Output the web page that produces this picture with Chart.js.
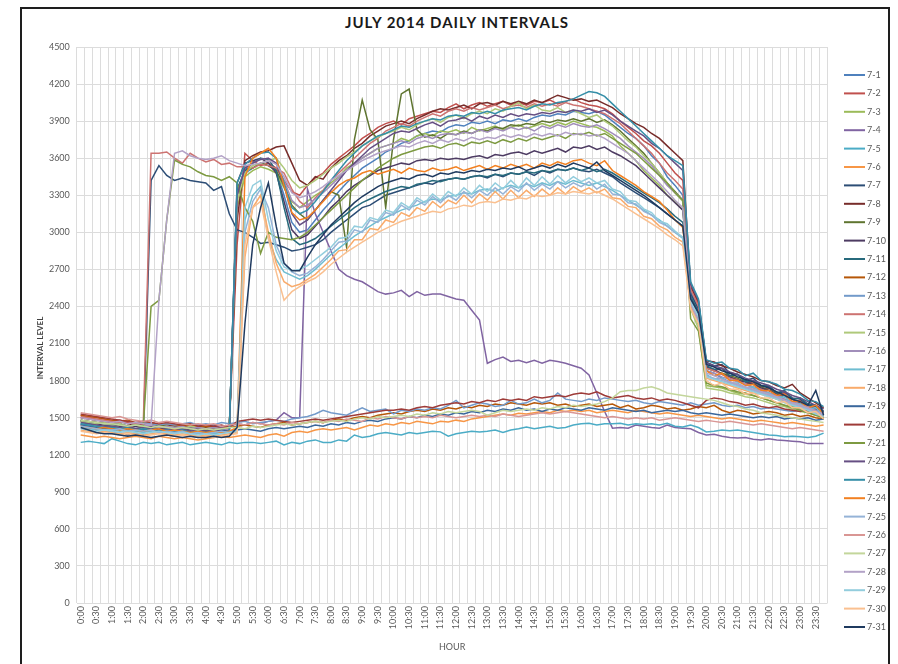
<!DOCTYPE html>
<html>
<head>
<meta charset="utf-8">
<title>July 2014 Daily Intervals</title>
<script src="https://cdn.jsdelivr.net/npm/chart.js@4.4.1/dist/chart.umd.min.js"></script>
<style>
  html, body { margin: 0; padding: 0; background: #fff; }
  body { width: 898px; height: 664px; position: relative; overflow: hidden; }
  #frame { position: absolute; left: 20px; top: 7px; width: 870px; height: 700px;
           border: 2px solid #1e1e1e; border-bottom: none; box-sizing: border-box; }
  #title { position: absolute; left: 20px; width: 874px; top: 13px; line-height: 18px;
           text-align: center; font: bold 15px Lato, sans-serif; letter-spacing: 1px; color: #1a1a1a; }
  #wrap { position: absolute; left: 21px; top: 9px; width: 868px; height: 655px; }
</style>
</head>
<body>
<div id="frame"></div>
<div id="title">JULY 2014 DAILY INTERVALS</div>
<div id="wrap"><canvas id="intervalChart"></canvas></div>
<script>
'use strict';
// ===================== data =====================
const hours = [
    '0:00','0:15','0:30','0:45','1:00','1:15','1:30','1:45','2:00','2:15','2:30','2:45',
    '3:00','3:15','3:30','3:45','4:00','4:15','4:30','4:45','5:00','5:15','5:30','5:45',
    '6:00','6:15','6:30','6:45','7:00','7:15','7:30','7:45','8:00','8:15','8:30','8:45',
    '9:00','9:15','9:30','9:45','10:00','10:15','10:30','10:45','11:00','11:15','11:30','11:45',
    '12:00','12:15','12:30','12:45','13:00','13:15','13:30','13:45','14:00','14:15','14:30','14:45',
    '15:00','15:15','15:30','15:45','16:00','16:15','16:30','16:45','17:00','17:15','17:30','17:45',
    '18:00','18:15','18:30','18:45','19:00','19:15','19:30','19:45','20:00','20:15','20:30','20:45',
    '21:00','21:15','21:30','21:45','22:00','22:15','22:30','22:45','23:00','23:15','23:30','23:45'
];

const days = ['7-1','7-2','7-3','7-4','7-5','7-6','7-7','7-8','7-9','7-10','7-11','7-12','7-13','7-14','7-15','7-16',
              '7-17','7-18','7-19','7-20','7-21','7-22','7-23','7-24','7-25','7-26','7-27','7-28','7-29','7-30','7-31'];

const jul01 = [
    1480,1460,1450,1440, 1430,1440,1420,1430, 1420,1410,1430,1420, 1410,1420,1400,1410,
    1400,1420,1410,1400, 3350,3480,3520,3560, 3540,3500,3300,3080, 3000,3020,3100,3180,
    3250,3330,3400,3460, 3520,3560,3600,3650, 3680,3720,3740,3780, 3800,3820,3810,3850,
    3870,3860,3890,3880, 3900,3880,3910,3900, 3920,3900,3930,3950, 3940,3960,3950,3980,
    3970,3960,3980,3950, 3900,3850,3800,3760, 3700,3620,3560,3450, 3380,3300,2520,2380,
    1880,1860,1820,1790, 1760,1740,1720,1700, 1680,1650,1630,1600, 1580,1560,1530,1510];
const jul02 = [
    1520,1500,1510,1490, 1470,1480,1460,1450, 1440,1450,1430,1440, 1430,1440,1420,1430,
    1420,1430,1410,1420, 2900,3640,3580,3540, 3560,3520,3420,3330, 3300,3380,3440,3480,
    3550,3600,3650,3700, 3760,3800,3850,3880, 3900,3870,3920,3940, 3960,3980,3970,4010,
    4040,4000,4030,4050, 4020,4040,4060,4030, 4050,4030,4060,4050, 4070,4040,4060,4080,
    4050,4030,4020,4000, 3960,3900,3850,3800, 3740,3700,3640,3560, 3480,3420,2560,2420,
    1920,1880,1900,1830, 1810,1770,1790,1730, 1740,1680,1700,1630, 1640,1580,1590,1540];
const jul03 = [
    1460,1450,1440,1450, 1430,1440,1420,1410, 1420,1410,1400,1420, 1410,1400,1410,1400,
    1400,1390,1410,1400, 3200,3450,3500,3530, 3510,3480,3360,3250, 3200,3250,3300,3340,
    3400,3450,3520,3560, 3600,3640,3680,3700, 3720,3760,3740,3780, 3800,3780,3820,3810,
    3830,3800,3850,3820, 3840,3860,3830,3850, 3870,3840,3860,3880, 3860,3890,3870,3900,
    3880,3860,3850,3820, 3780,3700,3640,3580, 3500,3440,3380,3300, 3250,3180,2400,2250,
    1760,1750,1740,1720, 1700,1690,1680,1660, 1640,1620,1600,1590, 1570,1550,1530,1510];
const jul04 = [
    1470,1460,1450,1460, 1440,1450,1430,1440, 1430,1440,1450,1430, 1440,1430,1420,1440,
    1430,1440,1420,1430, 1450,1440,1460,1450, 1470,1480,1540,1500, 1500,3350,3150,3000,
    2850,2700,2650,2620, 2600,2560,2520,2500, 2510,2530,2480,2520, 2490,2500,2500,2480,
    2460,2450,2370,2290, 1940,1970,1990,1955, 1965,1945,1965,1940, 1965,1955,1940,1920,
    1900,1845,1700,1550, 1415,1420,1415,1440, 1430,1420,1415,1440, 1420,1415,1410,1380,
    1360,1365,1350,1340, 1335,1340,1325,1320, 1330,1320,1315,1310, 1305,1290,1290,1290];
const jul05 = [
    1300,1310,1300,1290, 1330,1310,1290,1280, 1300,1290,1300,1280, 1290,1300,1280,1290,
    1300,1290,1280,1300, 1290,1300,1300,1290, 1300,1310,1280,1300, 1290,1310,1320,1300,
    1300,1320,1310,1360, 1340,1350,1370,1380, 1370,1360,1380,1370, 1380,1390,1385,1350,
    1370,1380,1390,1385, 1390,1400,1380,1400, 1410,1425,1410,1420, 1430,1415,1420,1440,
    1450,1455,1440,1450, 1450,1455,1440,1450, 1445,1450,1440,1455, 1430,1425,1440,1420,
    1385,1390,1400,1395, 1400,1390,1380,1370, 1360,1355,1345,1350, 1345,1340,1350,1375];
const jul06 = [
    1360,1350,1340,1350, 1340,1330,1340,1350, 1340,1330,1350,1340, 1330,1340,1330,1320,
    1330,1340,1350,1340, 1350,1360,1350,1340, 1360,1370,1350,1380, 1390,1380,1400,1410,
    1400,1410,1420,1400, 1420,1440,1430,1450, 1440,1460,1450,1470, 1460,1450,1470,1465,
    1480,1470,1490,1500, 1510,1520,1530,1520, 1535,1530,1540,1550, 1540,1560,1550,1560,
    1550,1560,1540,1550, 1560,1550,1540,1560, 1550,1540,1530,1540, 1530,1520,1510,1520,
    1510,1500,1490,1500, 1490,1480,1470,1480, 1470,1460,1450,1460, 1450,1440,1430,1440];
const jul07 = [
    1450,1420,1400,1390, 1380,1370,1360,1370, 1360,3420,3540,3460, 3420,3440,3420,3410,
    3400,3340,3370,3150, 3020,3000,2960,2910, 2920,2900,2880,2850, 2860,2880,2900,2940,
    3000,3050,3100,3150, 3200,3220,3260,3300, 3320,3340,3360,3380, 3400,3390,3420,3430,
    3440,3430,3450,3460, 3440,3470,3450,3480, 3470,3490,3460,3500, 3480,3510,3500,3520,
    3500,3490,3510,3480, 3450,3400,3360,3320, 3280,3240,3200,3150, 3100,3050,2500,2380,
    1950,1920,1930,1860, 1850,1800,1820,1760, 1750,1700,1710,1660, 1650,1600,1590,1550];
const jul08 = [
    1500,1490,1480,1470, 1460,1470,1450,1440, 1450,1440,1430,1440, 1430,1420,1440,1430,
    1420,1430,1410,1420, 3100,3580,3620,3650, 3660,3690,3700,3560, 3420,3380,3450,3430,
    3520,3580,3620,3680, 3720,3780,3820,3860, 3880,3900,3880,3920, 3950,3980,4000,3990,
    4010,4030,4000,4040, 4050,4030,4060,4040, 4060,4040,4070,4050, 4080,4110,4090,4070,
    4080,4060,4070,4040, 4010,3960,3920,3880, 3850,3800,3760,3700, 3640,3580,2560,2440,
    1960,1950,1920,1900, 1870,1850,1830,1800, 1790,1760,1740,1770, 1700,1660,1620,1580];
const jul09 = [
    1480,1470,1460,1450, 1440,1450,1430,1440, 1430,1420,1440,1430, 1420,1430,1410,1420,
    1410,1420,1400,1410, 3300,3500,3520,3560, 3540,3500,3380,3220, 3150,3100,3180,3260,
    3330,3300,2880,3750, 4070,3830,3750,3200, 3750,4120,4160,3830, 3770,3790,3760,3800,
    3790,3820,3800,3830, 3820,3850,3840,3870, 3860,3880,3870,3900, 3890,3910,3900,3920,
    3900,3920,3890,3910, 3870,3820,3760,3700, 3640,3560,3480,3400, 3330,3260,2450,2320,
    1900,1880,1860,1840, 1820,1790,1770,1750, 1720,1700,1670,1650, 1620,1590,1560,1540];
const jul10 = [
    1470,1460,1450,1440, 1440,1430,1420,1430, 1420,1430,1410,1420, 1410,1420,1400,1410,
    1400,1410,1400,1390, 3400,3560,3580,3600, 3560,3480,3250,3020, 2950,2980,3050,3120,
    3200,3260,3330,3380, 3420,3460,3500,3520, 3540,3560,3550,3580, 3590,3580,3600,3590,
    3600,3590,3610,3620, 3600,3630,3620,3640, 3650,3630,3660,3640, 3660,3680,3650,3690,
    3680,3700,3670,3690, 3650,3620,3580,3540, 3480,3420,3360,3300, 3240,3180,2470,2340,
    1910,1890,1850,1830, 1800,1790,1770,1740, 1720,1690,1670,1650, 1620,1590,1570,1550];
const jul11 = [
    1440,1430,1420,1410, 1420,1400,1410,1400, 1390,1400,1410,1390, 1400,1390,1380,1400,
    1390,1380,1400,1390, 3350,3500,3560,3600, 3590,3500,3200,2950, 2900,2920,2950,3000,
    3050,3100,3150,3200, 3240,3270,3300,3330, 3350,3370,3360,3390, 3400,3420,3410,3430,
    3440,3430,3450,3460, 3450,3470,3460,3480, 3470,3490,3480,3500, 3490,3510,3500,3520,
    3500,3520,3490,3510, 3480,3440,3400,3360, 3320,3280,3240,3190, 3130,3080,2480,2360,
    1920,1890,1900,1840, 1850,1790,1800,1760, 1760,1700,1720,1650, 1660,1610,1600,1550];
const jul12 = [
    1520,1510,1500,1490, 1480,1470,1480,1460, 1450,1460,1440,1450, 1440,1430,1440,1420,
    1430,1420,1410,1420, 1430,1440,1430,1420, 1440,1450,1460,1440, 1450,1460,1470,1460,
    1480,1490,1480,1500, 1510,1500,1520,1530, 1540,1530,1550,1560, 1550,1570,1560,1580,
    1570,1590,1580,1600, 1590,1610,1600,1620, 1610,1600,1620,1610, 1620,1600,1610,1590,
    1600,1610,1590,1600, 1610,1580,1600,1570, 1580,1600,1590,1570, 1580,1560,1570,1590,
    1580,1600,1560,1540, 1560,1550,1530,1540, 1550,1540,1520,1530, 1510,1520,1500,1490];
const jul13 = [
    1450,1440,1460,1450, 1440,1450,1430,1440, 1460,1450,1440,1450, 1440,1450,1460,1440,
    1450,1440,1460,1450, 1460,1470,1450,1460, 1470,1480,1470,1490, 1500,1510,1530,1560,
    1540,1530,1520,1550, 1580,1550,1560,1570, 1530,1560,1550,1570, 1560,1580,1570,1600,
    1640,1580,1600,1620, 1610,1590,1600,1640, 1610,1620,1650,1620, 1640,1700,1650,1640,
    1630,1650,1640,1660, 1650,1640,1630,1640, 1620,1610,1630,1620, 1610,1600,1620,1600,
    1610,1620,1600,1590, 1600,1580,1590,1570, 1580,1570,1560,1550, 1560,1540,1550,1530];
const jul14 = [
    1510,1500,1490,1480, 1470,1460,1470,1450, 1450,3640,3640,3650, 3600,3560,3640,3600,
    3570,3590,3550,3560, 3530,3530,3520,3550, 3540,3520,3480,3350, 3250,3200,3280,3340,
    3420,3480,3540,3600, 3660,3720,3760,3820, 3850,3880,3860,3900, 3930,3960,3940,3980,
    4000,3980,4010,3990, 4010,4030,4000,4020, 4030,4010,4040,4020, 4040,4020,4050,4030,
    4020,4000,3980,3960, 3920,3880,3820,3760, 3700,3640,3560,3480, 3420,3350,2540,2400,
    1900,1880,1850,1820, 1800,1770,1750,1730, 1700,1680,1650,1630, 1600,1580,1550,1530];
const jul15 = [
    1470,1460,1450,1460, 1440,1450,1430,1440, 1430,1440,1420,1430, 1420,1410,1430,1420,
    1410,1420,1400,1410, 3250,3480,3540,3560, 3580,3600,3520,3420, 3360,3380,3420,3470,
    3520,3560,3610,3650, 3700,3740,3770,3800, 3820,3850,3830,3870, 3900,3920,3890,3930,
    3950,3920,3960,3980, 3960,4000,3980,4020, 4050,4000,4030,3990, 3980,4010,3970,3990,
    3960,3930,3950,3900, 3860,3800,3740,3690, 3620,3560,3480,3400, 3320,3250,2380,2220,
    1740,1730,1720,1700, 1690,1670,1660,1640, 1620,1600,1590,1570, 1550,1540,1520,1500];
const jul16 = [
    1480,1470,1460,1450, 1450,1440,1430,1440, 1430,1440,1420,1430, 1420,1430,1410,1420,
    1410,1420,1410,1400, 3300,3520,3560,3590, 3600,3560,3420,3260, 3200,3220,3270,3320,
    3380,3440,3500,3550, 3600,3640,3680,3700, 3720,3740,3720,3760, 3780,3760,3790,3800,
    3790,3810,3800,3830, 3810,3840,3820,3850, 3830,3850,3820,3860, 3840,3870,3850,3880,
    3860,3850,3870,3840, 3800,3760,3700,3650, 3600,3540,3460,3380, 3320,3260,2450,2300,
    1880,1860,1830,1810, 1790,1770,1740,1720, 1700,1680,1650,1630, 1610,1590,1560,1540];
const jul17 = [
    1420,1410,1400,1410, 1400,1390,1400,1390, 1380,1390,1400,1390, 1380,1390,1380,1370,
    1380,1370,1380,1390, 1400,3100,3300,3370, 2950,2780,2680,2650, 2620,2650,2700,2760,
    2820,2870,2920,2970, 3010,3050,3090,3120, 3150,3180,3200,3220, 3250,3270,3260,3290,
    3300,3320,3310,3340, 3350,3330,3360,3380, 3360,3390,3370,3400, 3380,3410,3390,3420,
    3400,3380,3400,3370, 3340,3300,3260,3220, 3180,3140,3100,3050, 3000,2950,2420,2300,
    1850,1810,1820,1780, 1780,1740,1750,1700, 1700,1660,1670,1610, 1610,1570,1580,1520];
const jul18 = [
    1400,1390,1380,1390, 1380,1370,1380,1370, 1360,1370,1380,1370, 1360,1370,1360,1350,
    1360,1350,1360,1370, 1380,2800,3200,3300, 3000,2750,2600,2560, 2580,2620,2660,2720,
    2780,2850,2860,2940, 2940,3030,3020,3100, 3080,3160,3130,3200, 3170,3250,3200,3260,
    3230,3300,3240,3310, 3260,3330,3270,3340, 3280,3340,3290,3350, 3300,3360,3310,3370,
    3330,3360,3320,3350, 3280,3270,3210,3200, 3130,3110,3050,3020, 2960,2920,2400,2280,
    1820,1800,1780,1760, 1740,1720,1700,1690, 1670,1650,1630,1610, 1590,1570,1540,1520];
const jul19 = [
    1440,1430,1420,1410, 1420,1410,1400,1410, 1400,1410,1390,1400, 1390,1400,1380,1390,
    1380,1390,1400,1390, 1400,1410,1400,1390, 1410,1420,1410,1420, 1430,1420,1440,1430,
    1450,1440,1460,1450, 1470,1480,1470,1490, 1500,1490,1510,1500, 1520,1510,1530,1520,
    1540,1530,1550,1540, 1560,1550,1570,1560, 1580,1560,1570,1550, 1570,1560,1580,1570,
    1560,1580,1570,1560, 1580,1570,1560,1550, 1560,1540,1550,1560, 1550,1560,1540,1530,
    1540,1530,1520,1530, 1520,1510,1500,1510, 1500,1510,1490,1500, 1490,1500,1480,1490];
const jul20 = [
    1530,1520,1510,1500, 1490,1480,1470,1460, 1470,1460,1450,1460, 1450,1440,1450,1430,
    1440,1430,1440,1420, 1470,1480,1490,1480, 1490,1480,1470,1460, 1470,1480,1490,1480,
    1490,1500,1510,1520, 1530,1540,1550,1560, 1560,1570,1560,1580, 1590,1580,1600,1610,
    1620,1610,1630,1620, 1640,1630,1650,1640, 1650,1640,1670,1660, 1670,1680,1670,1690,
    1700,1690,1710,1680, 1660,1670,1680,1660, 1650,1660,1640,1650, 1640,1620,1600,1580,
    1640,1660,1650,1630, 1620,1600,1610,1590, 1580,1590,1570,1560, 1550,1560,1540,1520];
const jul21 = [
    1480,1470,1460,1450, 1450,1440,1430,1440, 1430,2400,2450,3100, 3585,3550,3530,3490,
    3460,3450,3420,3450, 3400,3200,3090,2830, 3000,2960,2950,2940, 2960,3000,3060,3120,
    3180,3240,3300,3360, 3420,3470,3520,3560, 3600,3630,3650,3670, 3690,3700,3680,3710,
    3720,3700,3730,3720, 3740,3720,3750,3730, 3760,3740,3770,3750, 3770,3790,3760,3800,
    3790,3810,3780,3800, 3760,3720,3680,3640, 3580,3520,3460,3400, 3320,3260,2300,2200,
    1780,1760,1750,1730, 1710,1700,1680,1660, 1640,1620,1600,1580, 1560,1540,1520,1500];
const jul22 = [
    1460,1450,1440,1430, 1430,1420,1430,1410, 1420,1410,1400,1410, 1400,1410,1390,1400,
    1390,1400,1390,1380, 3300,3520,3560,3590, 3600,3560,3380,3150, 3060,3100,3180,3260,
    3340,3420,3500,3560, 3620,3680,3720,3760, 3800,3820,3810,3840, 3870,3890,3860,3900,
    3910,3930,3900,3940, 3920,3950,3930,3960, 3940,3960,3950,3970, 3960,3980,3970,3990,
    3980,4000,3970,3990, 3950,3900,3860,3820, 3780,3720,3680,3620, 3560,3500,2580,2450,
    1940,1920,1900,1870, 1850,1820,1800,1780, 1760,1730,1710,1680, 1660,1630,1600,1570];
const jul23 = [
    1450,1440,1430,1420, 1420,1410,1420,1400, 1410,1400,1390,1400, 1390,1400,1380,1390,
    1380,1390,1380,1390, 3400,3550,3600,3640, 3650,3600,3400,3200, 3150,3180,3250,3330,
    3420,3500,3580,3640, 3700,3740,3780,3800, 3830,3860,3850,3880, 3900,3920,3910,3940,
    3950,3940,3970,3960, 3980,3960,3990,4000, 4010,3990,4020,4040, 4030,4050,4060,4080,
    4110,4140,4130,4100, 4040,3980,3920,3860, 3800,3740,3680,3620, 3580,3540,2600,2460,
    1970,1940,1950,1900, 1890,1840,1860,1800, 1790,1770,1730,1720, 1690,1640,1630,1590];
const jul24 = [
    1430,1420,1410,1420, 1410,1400,1410,1400, 1390,1400,1410,1390, 1400,1390,1380,1390,
    1380,1390,1380,1390, 1420,3450,3600,3640, 3680,3600,3380,3160, 3100,3120,3180,3250,
    3320,3380,3420,3440, 3480,3500,3470,3490, 3510,3480,3520,3500, 3490,3520,3500,3510,
    3530,3500,3520,3540, 3510,3540,3520,3550, 3530,3550,3520,3560, 3540,3570,3550,3580,
    3590,3560,3540,3580, 3500,3460,3420,3380, 3330,3290,3250,3180, 3100,3040,2420,2300,
    1880,1840,1860,1800, 1800,1760,1770,1720, 1720,1680,1690,1630, 1630,1580,1600,1530];
const jul25 = [
    1430,1420,1410,1400, 1400,1410,1390,1400, 1390,1400,1380,1390, 1380,1390,1370,1380,
    1370,1380,1390,1380, 1400,3000,3250,3350, 3200,2900,2750,2680, 2650,2670,2720,2780,
    2850,2920,2930,3020, 3000,3100,3080,3160, 3140,3220,3180,3260, 3220,3290,3240,3300,
    3260,3330,3280,3340, 3300,3360,3310,3370, 3330,3400,3340,3390, 3350,3410,3360,3400,
    3370,3410,3350,3390, 3310,3300,3240,3230, 3170,3140,3080,3050, 3000,2960,2430,2310,
    1840,1820,1800,1780, 1760,1740,1720,1700, 1680,1660,1640,1610, 1590,1570,1540,1520];
const jul26 = [
    1540,1530,1520,1510, 1500,1510,1490,1480, 1470,1480,1460,1470, 1460,1450,1440,1450,
    1440,1450,1430,1440, 1450,1440,1460,1450, 1440,1450,1440,1460, 1450,1460,1470,1460,
    1480,1470,1490,1480, 1470,1500,1490,1510, 1500,1490,1510,1500, 1510,1500,1520,1510,
    1500,1510,1520,1510, 1520,1510,1530,1520, 1510,1520,1530,1540, 1530,1540,1550,1540,
    1530,1520,1510,1500, 1510,1500,1490,1500, 1490,1500,1480,1490, 1500,1490,1480,1470,
    1480,1470,1460,1470, 1460,1450,1440,1450, 1440,1430,1420,1410, 1420,1410,1400,1390];
const jul27 = [
    1480,1470,1460,1450, 1450,1440,1430,1440, 1430,1420,1430,1420, 1410,1420,1410,1400,
    1410,1400,1410,1420, 1420,1410,1430,1420, 1430,1440,1450,1440, 1450,1460,1470,1460,
    1470,1480,1470,1490, 1500,1490,1510,1500, 1510,1520,1510,1530, 1520,1540,1530,1550,
    1540,1550,1560,1550, 1520,1540,1560,1550, 1560,1570,1560,1580, 1570,1590,1580,1600,
    1590,1600,1610,1630, 1660,1710,1720,1720, 1740,1750,1730,1700, 1690,1680,1670,1660,
    1650,1640,1620,1600, 1590,1570,1560,1540, 1530,1520,1510,1500, 1490,1480,1470,1460];
const jul28 = [
    1500,1490,1480,1470, 1460,1470,1450,1460, 1450,1440,2450,3100, 3640,3660,3620,3600,
    3590,3600,3620,3580, 3560,3540,3550,3560, 3580,3550,3450,3320, 3280,3300,3330,3370,
    3420,3460,3500,3540, 3580,3610,3640,3660, 3680,3700,3690,3720, 3740,3720,3750,3730,
    3760,3740,3770,3750, 3770,3760,3790,3770, 3790,3770,3800,3780, 3800,3780,3810,3790,
    3800,3780,3790,3760, 3720,3680,3640,3580, 3520,3460,3400,3330, 3260,3200,2420,2280,
    1860,1840,1810,1790, 1770,1750,1730,1710, 1690,1670,1640,1620, 1600,1580,1550,1530];
const jul29 = [
    1410,1400,1390,1400, 1390,1380,1390,1380, 1370,1380,1390,1380, 1370,1380,1370,1360,
    1370,1360,1370,1380, 1390,3200,3380,3420, 3100,2850,2720,2690, 2700,2730,2780,2830,
    2880,2950,2960,3050, 3040,3120,3100,3180, 3160,3240,3200,3280, 3240,3310,3260,3330,
    3290,3360,3310,3380, 3330,3400,3350,3420, 3360,3440,3380,3450, 3390,3460,3400,3450,
    3410,3440,3400,3420, 3350,3330,3260,3250, 3190,3160,3090,3070, 3010,2960,2440,2320,
    1830,1810,1790,1770, 1750,1730,1710,1690, 1670,1650,1620,1600, 1580,1560,1530,1510];
const jul30 = [
    1390,1380,1370,1380, 1370,1360,1370,1360, 1350,1360,1370,1360, 1350,1360,1350,1340,
    1350,1340,1350,1360, 1370,2900,3200,3250, 2950,2680,2450,2520, 2560,2600,2630,2680,
    2740,2790,2840,2880, 2920,2960,3000,3030, 3060,3090,3110,3130, 3150,3170,3160,3190,
    3200,3220,3210,3240, 3250,3240,3270,3260, 3280,3270,3300,3290, 3300,3320,3310,3330,
    3320,3310,3330,3300, 3270,3230,3190,3150, 3110,3070,3030,2980, 2940,2890,2380,2260,
    1800,1760,1780,1730, 1730,1690,1700,1660, 1660,1620,1630,1580, 1580,1540,1550,1490];
const jul31 = [
    1420,1400,1380,1370, 1370,1360,1350,1360, 1350,1340,1350,1360, 1350,1340,1350,1340,
    1340,1350,1340,1350, 1420,2260,2900,3200, 3400,3050,2750,2690, 2690,2800,2900,2980,
    3060,3120,3180,3240, 3290,3330,3370,3400, 3420,3440,3430,3460, 3470,3450,3480,3470,
    3490,3480,3500,3490, 3510,3500,3520,3510, 3530,3500,3520,3540, 3520,3550,3530,3560,
    3540,3520,3570,3500, 3460,3420,3380,3340, 3300,3250,3200,3150, 3100,3050,2460,2350,
    1930,1910,1880,1860, 1830,1810,1790,1760, 1740,1710,1680,1650, 1630,1600,1720,1520];

const series = [jul01, jul02, jul03, jul04, jul05, jul06, jul07, jul08, jul09, jul10, jul11, jul12, jul13, jul14, jul15, jul16,
                jul17, jul18, jul19, jul20, jul21, jul22, jul23, jul24, jul25, jul26, jul27, jul28, jul29, jul30, jul31];

// ===================== styles =====================
const palette = [
    '#4F81BD', '#C0504D', '#9BBB59', '#8064A2', '#4BACC6', '#F79646',
    '#2C4D75', '#772C2A', '#5F7530', '#4D3B62', '#276A7C', '#B65708',
    '#729ACA', '#CD7371', '#AFC97A', '#A18EBA', '#6FBDD1', '#F9AB6B',
    '#3A679C', '#9E3B38', '#7D9A41', '#664F83', '#358EA7', '#F28021',
    '#95B3D7', '#D99694', '#C3D69B', '#B3A2C7', '#93CDDD', '#FAC090',
    '#1F3A5F'
];
const axisText = '#595959';
const gridColor = '#DCDCDC';
const fontFamily = 'Lato, sans-serif';

// legend down the right side + the value axis title
const sideLegend = {
    id: 'sideLegend',
    afterDraw(chart) {
        const ctx = chart.ctx;
        ctx.save();
        ctx.font = `9px ${fontFamily}`;
        ctx.textBaseline = 'middle';
        ctx.textAlign = 'left';
        chart.data.datasets.forEach((ds, i) => {
            const y = 66 + i * 18.4;
            ctx.strokeStyle = ds.borderColor;
            ctx.lineWidth = 2;
            ctx.beginPath();
            ctx.moveTo(823, y);
            ctx.lineTo(844, y);
            ctx.stroke();
            ctx.fillStyle = axisText;
            ctx.fillText(ds.label, 846, y);
        });
        ctx.translate(19, 339);
        ctx.rotate(-Math.PI / 2);
        ctx.textAlign = 'center';
        ctx.font = `bold 8px ${fontFamily}`;
        ctx.fillStyle = '#404040';
        ctx.fillText('INTERVAL LEVEL', 0, 0);
        ctx.restore();
    }
};

const ctx = document.getElementById('intervalChart').getContext('2d');
new Chart(ctx, {
    type: 'line',
    data: {
        labels: hours,
        datasets: days.map((d, i) => ({
            label: d,
            data: series[i],
            borderColor: palette[i],
            backgroundColor: palette[i],
            borderWidth: 1.5,
            pointRadius: 0,
            tension: 0,
            fill: false,
            order: days.length - 1 - i
        }))
    },
    options: {
        responsive: true,
        maintainAspectRatio: false,
        animation: false,
        layout: { padding: { top: 38, right: 61.5, left: 0, bottom: 0 } },
        plugins: {
            legend: { display: false },
            title: { display: false },
            tooltip: { enabled: false }
        },
        scales: {
            x: {
                offset: true,
                grid: { offset: true, color: gridColor, drawTicks: false },
                border: { display: false },
                ticks: {
                    autoSkip: false, maxRotation: 90, minRotation: 90, padding: 3,
                    color: axisText, font: { family: fontFamily, size: 9 },
                    callback: (v, i) => (i % 2 === 0 ? hours[i] : '')
                },
                title: {
                    display: true, text: 'HOUR', color: axisText,
                    font: { family: fontFamily, size: 9 }, padding: { top: 0, bottom: 11.6 }
                },
                afterFit: s => { s.height = 61; }
            },
            y: {
                min: 0,
                max: 4500,
                grid: { color: gridColor, drawTicks: false },
                border: { display: false },
                ticks: {
                    stepSize: 300, padding: 7, color: axisText,
                    font: { family: fontFamily, size: 9 },
                    callback: v => String(v)
                },
                afterFit: s => { s.width = 55.8; }
            }
        }
    },
    plugins: [sideLegend]
});
</script>
</body>
</html>
